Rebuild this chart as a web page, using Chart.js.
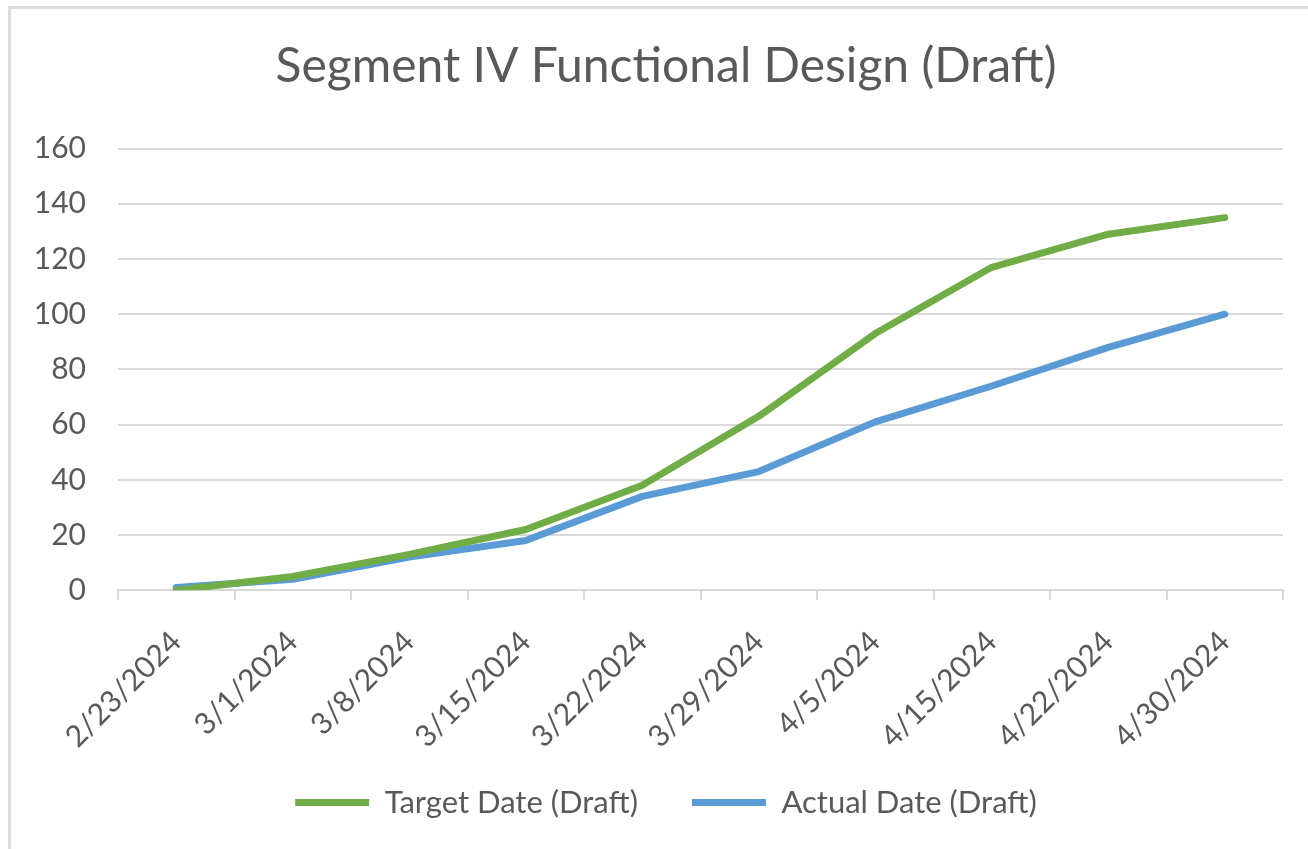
<!DOCTYPE html>
<html>
<head>
<meta charset="utf-8">
<title>Segment IV Functional Design (Draft)</title>
<script src="https://cdn.jsdelivr.net/npm/chart.js@4.4.1/dist/chart.umd.min.js"></script>
<style>
  html, body { margin: 0; padding: 0; background: #fff; overflow: hidden; }
  #wrap { width: 1308px; height: 849px; }
</style>
</head>
<body>
<div id="wrap"><canvas id="myChart" width="1308" height="849"></canvas></div>
<script>
const labels = ['2/23/2024', '3/1/2024', '3/8/2024', '3/15/2024', '3/22/2024',
                '3/29/2024', '4/5/2024', '4/15/2024', '4/22/2024', '4/30/2024'];
const targetDraft = [0, 5, 13, 22, 38, 63, 93, 117, 129, 135];
const actualDraft = [1, 4, 12, 18, 34, 43, 61, 74, 88, 100];
const yTicks = [0, 20, 40, 60, 80, 100, 120, 140, 160];

const textColor = '#595959';
const gridColor = '#d9d9d9';
const fontFamily = "Lato, 'Open Sans', sans-serif";

// light frame like the excel chart border (only top + left show)
const frame = {
  id: 'frame',
  beforeDraw(chart) {
    const c = chart.ctx;
    c.save();
    c.strokeStyle = '#dcdcdc';
    c.lineWidth = 3;
    c.beginPath();
    c.moveTo(9.5, chart.height);
    c.lineTo(9.5, 7.5);
    c.lineTo(chart.width, 7.5);
    c.stroke();
    c.restore();
  }
};

const ctx = document.getElementById('myChart').getContext('2d');
const myChart = new Chart(ctx, {
  type: 'line',
  data: {
    labels: labels,
    datasets: [
      {
        label: 'Target Date (Draft)',
        data: targetDraft,
        borderColor: '#70ad47',
        backgroundColor: '#70ad47',
        borderWidth: 7,
        borderCapStyle: 'round',
        borderJoinStyle: 'round',
        pointRadius: 0,
        tension: 0
      },
      {
        label: 'Actual Date (Draft)',
        data: actualDraft,
        borderColor: '#5b9bd5',
        backgroundColor: '#5b9bd5',
        borderWidth: 7,
        borderCapStyle: 'round',
        borderJoinStyle: 'round',
        pointRadius: 0,
        tension: 0
      }
    ]
  },
  options: {
    responsive: false,
    animation: false,
    layout: { padding: { left: 24, right: 0, top: 8, bottom: 21 } },
    plugins: {
      title: {
        display: true,
        text: 'Segment IV Functional Design (Draft)',
        color: textColor,
        font: { family: fontFamily, size: 48, weight: 'normal' },
        padding: { top: 30, bottom: 53 }
      },
      legend: {
        position: 'bottom',
        labels: {
          color: textColor,
          font: { family: fontFamily, size: 31 },
          usePointStyle: true,
          pointStyle: 'line',
          pointStyleWidth: 74,
          padding: 54
        }
      },
      tooltip: { enabled: false }
    },
    scales: {
      x: {
        offset: true,
        afterFit(scale) {
          // labels sit lower than the tick marks, keep the plot height
          scale.height -= 46;
          // let the rotated labels spill past the shortened box
          scale._computeLabelArea = () => undefined;
        },
        grid: {
          offset: true,
          drawOnChartArea: false,
          color: gridColor,
          lineWidth: 2,
          tickLength: 10
        },
        border: { color: gridColor, width: 2 },
        ticks: {
          color: textColor,
          font: { family: fontFamily, size: 30 },
          minRotation: 45,
          maxRotation: 45,
          padding: 24
        }
      },
      y: {
        min: 0,
        max: 160,
        afterBuildTicks(scale) {
          scale.ticks = yTicks.map(v => ({ value: v }));
        },
        afterFit(scale) {
          scale.width = 94;
        },
        grid: { color: gridColor, lineWidth: 2, drawTicks: false },
        border: { display: false },
        ticks: {
          color: textColor,
          font: { family: fontFamily, size: 30 },
          padding: 32
        }
      },
      // empty spacer on the right so the plot stops short of the edge
      yRight: {
        position: 'right',
        afterFit(scale) {
          scale.width = 25;
        },
        grid: { display: false },
        border: { display: false },
        ticks: { display: false }
      }
    }
  },
  plugins: [frame]
});
</script>
</body>
</html>
